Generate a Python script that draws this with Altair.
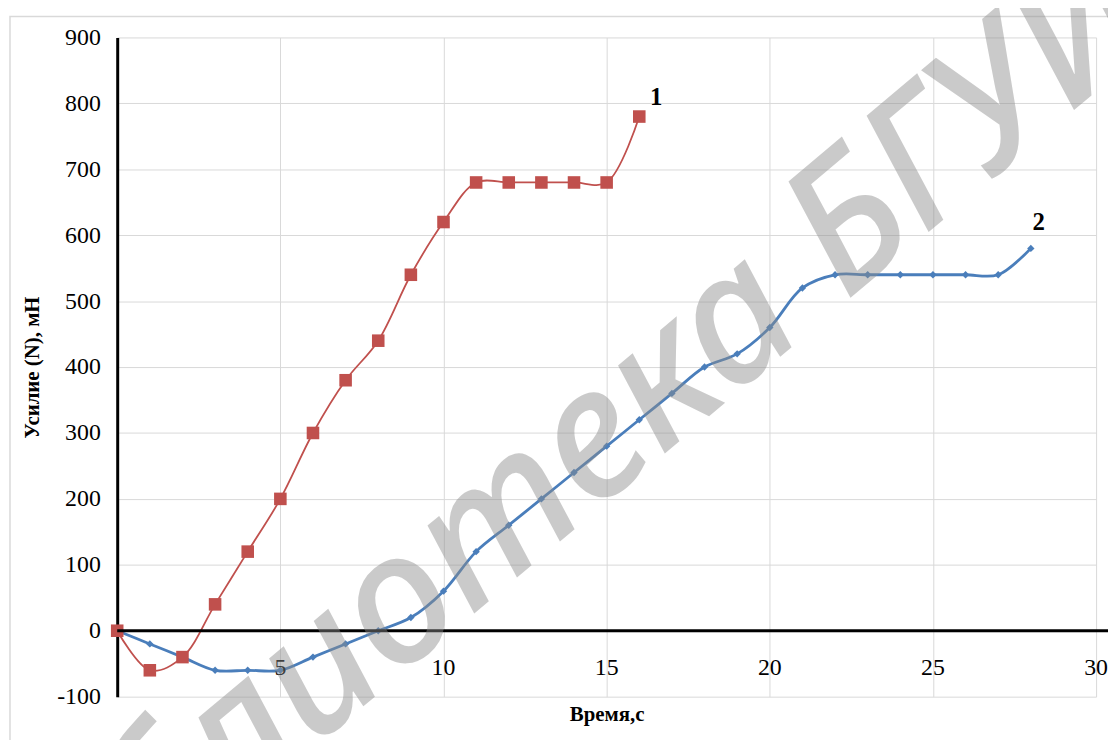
import altair as alt
import pandas as pd

# Series 1 (red squares)
t1 = [0, 1, 2, 3, 4, 5, 6, 7, 8, 9, 10, 11, 12, 13, 14, 15, 16]
f1 = [0, -60, -40, 40, 120, 200, 300, 380, 440, 540, 620, 680, 680, 680, 680, 680, 780]

# Series 2 (blue diamonds)
t2 = list(range(0, 29))
f2 = [0, -20, -40, -60, -60, -60, -40, -20, 0, 20, 60, 120, 160, 200, 240, 280, 320,
      360, 400, 420, 460, 520, 540, 540, 540, 540, 540, 540, 580]

x_ticks = [5, 10, 15, 20, 25, 30]
y_ticks = [-100, 0, 100, 200, 300, 400, 500, 600, 700, 800, 900]
curve_labels = ["1", "2"]
watermark_text = ["Библиотека БГУИР"]

RED = "#C0504D"
BLUE = "#4A7EBB"
SERIF = "Liberation Serif"

df1 = pd.DataFrame({"t": t1, "f": f1})
df2 = pd.DataFrame({"t": t2, "f": f2})
df_lab1 = pd.DataFrame({"t": [t1[-1]], "f": [f1[-1]], "lab": [curve_labels[0]]})
df_lab2 = pd.DataFrame({"t": [t2[-1]], "f": [f2[-1]], "lab": [curve_labels[1]]})
df_xt = pd.DataFrame({"t": x_ticks, "lab": [str(v) for v in x_ticks]})

xs = alt.Scale(domain=[0, 30], nice=False)
ys = alt.Scale(domain=[-100, 900], nice=False)

X = alt.X("t:Q", scale=xs, axis=alt.Axis(values=[0] + x_ticks, labels=False, ticks=False, domain=False,
                                         grid=True, gridColor="#d9d9d9", gridWidth=1,
                                         title="Время,с", titleFont=SERIF, titleFontSize=21,
                                         titleFontWeight="bold", titleColor="black", titlePadding=7))
Y = alt.Y("f:Q", scale=ys, axis=alt.Axis(values=y_ticks, ticks=False, domain=True, domainColor="black",
                                         domainWidth=3, grid=True, gridColor="#d9d9d9", gridWidth=1,
                                         labelFont=SERIF, labelFontSize=24, labelColor="black",
                                         labelPadding=17,
                                         labelExpr="datum.value < 0 ? '-' + abs(datum.value) : datum.label",
                                         title="Усилие (N), мН", titleFont=SERIF, titleFontSize=21,
                                         titleFontWeight="bold", titleColor="black", titlePadding=14))

XP = alt.X("t:Q", scale=xs)
YP = alt.Y("f:Q", scale=ys)

border = alt.Chart(pd.DataFrame({"a": [0]})).mark_rect(fill=None, stroke="#d9d9d9", strokeWidth=1.5).encode(
    x=alt.value(-108), y=alt.value(-21), x2=alt.value(1010), y2=alt.value(720))

line1 = alt.Chart(df1).mark_line(interpolate="catmull-rom", color=RED, strokeWidth=1.8).encode(x=X, y=Y)
pts1 = alt.Chart(df1).mark_point(shape="square", filled=True, size=160, color=RED, opacity=1).encode(x=XP, y=YP)
line2 = alt.Chart(df2).mark_line(interpolate="catmull-rom", color=BLUE, strokeWidth=2.8).encode(x=XP, y=YP)
pts2 = alt.Chart(df2).mark_point(shape="diamond", filled=True, size=55, color=BLUE, opacity=1).encode(x=XP, y=YP)

zero = alt.Chart(pd.DataFrame({"f": [0]})).mark_rule(color="black", strokeWidth=3).encode(
    y=YP, x=alt.value(0), x2=alt.value(998))

xlabels = alt.Chart(df_xt).mark_text(font=SERIF, fontSize=24, color="black", baseline="middle").encode(
    x=XP, y=alt.datum(-57), text="lab:N")

clab1 = alt.Chart(df_lab1).mark_text(font=SERIF, fontSize=25, fontWeight="bold", color="black",
                                     baseline="middle", dx=17, dy=-20).encode(x=XP, y=YP, text="lab:N")
clab2 = alt.Chart(df_lab2).mark_text(font=SERIF, fontSize=25, fontWeight="bold", color="black",
                                     baseline="middle", dx=8, dy=-27).encode(x=XP, y=YP, text="lab:N")

watermark = alt.Chart(pd.DataFrame({"w": watermark_text})).mark_text(
    font="Noto Sans", fontStyle="italic", fontWeight=500, fontSize=182, color="#8c8c8c", opacity=0.45,
    angle=320, align="center", baseline="middle").encode(
    x=alt.value(472), y=alt.value(414), text="w:N")

chart = alt.layer(border, line1, line2, pts2, pts1, zero, xlabels, clab1, clab2, watermark).properties(
    width=986, height=664,
    autosize=alt.AutoSizeParams(type="none"),
    padding={"left": 110, "top": 27, "right": 12, "bottom": 41},
    background="white",
).configure_view(stroke=None)

chart.save("out.html", embed_options={"renderer": "svg", "actions": False})
